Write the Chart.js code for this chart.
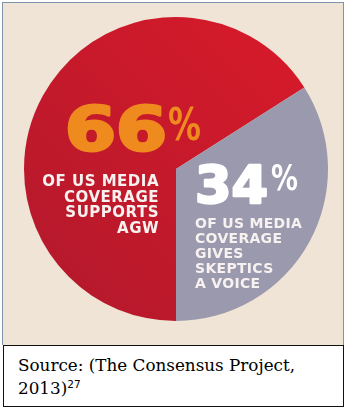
<!DOCTYPE html>
<html>
<head>
<meta charset="utf-8">
<script src="https://cdn.jsdelivr.net/npm/chart.js@4/dist/chart.umd.min.js"></script>
<style>
    body { margin: 0; background: #fff; width: 347px; height: 409px; position: relative; overflow: hidden; }
    #panel {
        position: absolute; left: 2px; top: 2px; width: 340px; height: 342px;
        border: 1px solid #8193ab; border-bottom: none; background: #efe4d5;
    }
    #panel canvas { position: absolute; left: 0; top: 0; }
    #source {
        position: absolute; left: 3px; top: 345px; width: 339px; height: 60px;
        border: 1px solid #111; background: #fff; box-sizing: content-box;
        font-family: 'DejaVu Serif', serif; font-size: 16.8px; line-height: 23px;
        color: #000; padding: 0;
    }
    #source div { padding: 8px 0 0 14px; }
    #source sup { font-family: 'DejaVu Sans', sans-serif; font-size: 10.5px; vertical-align: 6px; line-height: 0; }
</style>
</head>
<body>
<div id="panel"><canvas id="pieChart" width="340" height="342"></canvas></div>
<div id="source"><div>Source: (The Consensus Project,<br>2013)<sup>27</sup></div></div>

<script>
// Data
const categories = ['Supports AGW', 'Gives skeptics a voice'];
const shares = [66, 34];
const sliceColors = ['#d0192b', '#9b99ad'];
const bigLabelColors = ['#ef8a1f', '#ffffff'];
const captionLines = [
    ['OF US MEDIA', 'COVERAGE', 'SUPPORTS', 'AGW'],
    ['OF US MEDIA', 'COVERAGE', 'GIVES', 'SKEPTICS', 'A VOICE']
];

// Red slice gets a soft top-to-bottom shading like the print original
function sliceFill(ctx) {
    if (ctx.dataIndex !== 0) return sliceColors[ctx.dataIndex];
    const area = ctx.chart.chartArea;
    if (!area) return sliceColors[0];
    const g = ctx.chart.ctx.createLinearGradient(area.right, area.top, area.left, area.bottom);
    g.addColorStop(0, '#da1a2a');
    g.addColorStop(1, '#b1192c');
    return g;
}

// draw text stretched to a given width, optional stroke to fake a heavier weight
function drawStretched(c, text, x, y, width, heavy) {
    const w = c.measureText(text).width;
    const sx = width ? width / w : 1;
    c.save();
    c.translate(x, y);
    c.scale(sx, 1);
    c.textAlign = 'left';
    if (heavy) {
        c.strokeStyle = c.fillStyle;
        c.lineWidth = heavy;
        c.lineJoin = 'round';
        c.strokeText(text, 0, 0);
    }
    c.fillText(text, 0, 0);
    c.restore();
}

const labelPlugin = {
    id: 'sliceLabels',
    afterDatasetsDraw(chart) {
        const arc = chart.getDatasetMeta(0).data[0];
        const cx = arc.x, cy = arc.y;
        const c = chart.ctx;
        c.save();
        c.textBaseline = 'alphabetic';

        // 66%
        c.fillStyle = bigLabelColors[0];
        c.font = 'bold 60px "DejaVu Sans"';
        drawStretched(c, String(shares[0]), cx - 111, cy - 19, 102, 3);
        c.font = 'bold 44px "DejaVu Sans"';
        drawStretched(c, '%', cx - 8, cy - 29, 33);

        // 34%
        c.fillStyle = bigLabelColors[1];
        c.font = 'bold 51px "DejaVu Sans"';
        drawStretched(c, String(shares[1]), cx + 19, cy + 34, 73, 2.5);
        c.font = 'bold 35px "DejaVu Sans"';
        drawStretched(c, '%', cx + 95, cy + 21, 27);

        // captions
        c.fillStyle = '#f7f2f0';
        c.font = 'bold 15px "DejaVu Sans"';
        captionLines[0].forEach((t, i) => {
            c.save();
            c.letterSpacing = '0.5px';
            c.textAlign = 'right';
            c.fillText(t, cx - 17, cy + 17 + i * 15.5);
            c.restore();
        });
        c.font = 'bold 14px "DejaVu Sans"';
        captionLines[1].forEach((t, i) => {
            c.save();
            c.letterSpacing = '0.3px';
            c.textAlign = 'left';
            c.fillText(t, cx + 19, cy + 59 + i * 15);
            c.restore();
        });
        c.restore();
    }
};

new Chart(document.getElementById('pieChart'), {
    type: 'pie',
    data: {
        labels: categories,
        datasets: [{
            data: shares,
            backgroundColor: sliceFill,
            borderWidth: 0,
            hoverOffset: 0
        }]
    },
    options: {
        responsive: false,
        animation: false,
        rotation: 180,
        radius: 152,
        layout: { padding: { left: 21, right: 15, top: 14, bottom: 24 } },
        events: [],
        plugins: { legend: { display: false }, tooltip: { enabled: false } }
    },
    plugins: [labelPlugin]
});
</script>
</body>
</html>
